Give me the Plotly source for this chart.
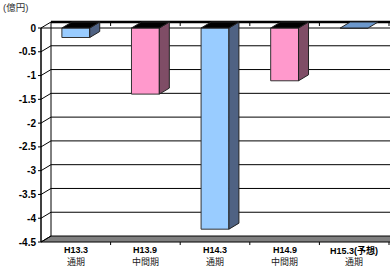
import plotly.graph_objects as go

# ---- data ----
categories = ["H13.3", "H13.9", "H14.3", "H14.9", "H15.3(予想)"]
periods = ["通期", "中間期", "通期", "中間期", "通期"]
values = [-0.20, -1.39, -4.23, -1.11, 0.0]
y_ticks = [0, -0.5, -1, -1.5, -2, -2.5, -3, -3.5, -4, -4.5]
y_tick_labels = ["0", "-0.5", "-1", "-1.5", "-2", "-2.5", "-3", "-3.5", "-4", "-4.5"]
unit_label = "(億円)"

# ---- styling / geometry ----
BLUE, BLUE_SIDE, BLUE_TOP = "#99CCFF", "#4F6283", "#6C98CC"
PINK, PINK_SIDE = "#FF99CC", "#7F4D66"
front_cols = [BLUE, PINK, BLUE, PINK, BLUE]
side_cols = [BLUE_SIDE, PINK_SIDE, BLUE_SIDE, PINK_SIDE, BLUE_SIDE]

W, H = 390, 267
L, T, B = 37, 20, 21
px_x = 69.6          # pixels per category
px_y = 47.56         # pixels per unit
x_front0 = 41        # pixel of x=-0.5
y_front0 = 28        # pixel of value 0
dx = 10 / px_x       # depth offset (data units)
dy = 6 / px_y
bw = 0.40

x_start = -0.5 - (x_front0 - L) / px_x
x_end = x_start + (W - L) / px_x
y_top = (y_front0 - T) / px_y
y_bot = -((H - B) - y_front0) / px_y

xs = list(range(len(categories)))
x0 = -0.5
xmax = x_end + 0.5
ymin = y_ticks[-1]

fig = go.Figure()

shapes = []
def line(xa, ya, xb, yb, w=1, color="black"):
    shapes.append(dict(type="line", xref="x", yref="y", x0=xa, y0=ya, x1=xb, y1=yb,
                       line=dict(color=color, width=w), layer="below"))

# floor
shapes.append(dict(type="path", xref="x", yref="y", layer="below",
                   path=f"M {x0},{ymin} L {xmax},{ymin} L {xmax},{ymin+dy} L {x0+dx},{ymin+dy} Z",
                   fillcolor="#808080", line=dict(color="black", width=1)))
# back-wall gridlines and diagonals
for t in y_ticks:
    if t not in (0, ymin):
        line(x0 + dx, t + dy, xmax, t + dy, 1)
    line(x0, t, x0 + dx, t + dy, 1)
    line(x0 - 3 / px_x, t, x0, t, 1)
# back wall left edge
line(x0 + dx, dy, x0 + dx, ymin + dy, 1)
# front axis
line(x0, 0, x0, ymin, 1.5)
# top (zero plane)
line(x0, 0, xmax, 0, 1)
line(x0 + dx, dy, xmax, dy, 2.5)
# category boundary ticks
for i in range(len(categories)):
    xb = i + 0.5
    line(xb, dy, xb, dy - 4 / px_y, 1)
    line(xb, ymin, xb, ymin - 3 / px_y, 1)

# front faces
fig.add_trace(go.Bar(x=xs, y=values, width=bw, marker=dict(color=front_cols,
                     line=dict(color="#333333", width=1)), showlegend=False, hoverinfo="skip"))

# side and top faces
for x, v, sc in zip(xs, values, side_cols):
    xl, xr = x - bw / 2, x + bw / 2
    if v < 0:
        fig.add_trace(go.Scatter(x=[xr, xr + dx, xr + dx, xr, xr], y=[0, dy, v + dy, v, 0],
                                 fill="toself", fillcolor=sc, mode="lines",
                                 line=dict(color="#222222", width=1), showlegend=False, hoverinfo="skip"))
    top_col = "black" if v < 0 else BLUE_TOP
    fig.add_trace(go.Scatter(x=[xl, xr, xr + dx, xl + dx, xl], y=[0, 0, dy, dy, 0],
                             fill="toself", fillcolor=top_col, mode="lines",
                             line=dict(color="#222222", width=1), showlegend=False, hoverinfo="skip"))

annotations = [dict(text=unit_label, xref="paper", yref="paper", x=0, y=1,
                    xanchor="left", yanchor="middle", xshift=-L + 1, yshift=T - 7,
                    showarrow=False, font=dict(size=9.5, color="#333333",
                                               family="Liberation Sans, Noto Sans CJK JP"))]
plot_bottom_px = H - B
for x, c, p in zip(xs, categories, periods):
    annotations.append(dict(text=c, xref="x", yref="paper", x=x, y=0, xanchor="center",
                            yanchor="middle", yshift=plot_bottom_px - 250, showarrow=False,
                            font=dict(size=9, weight="bold", color="black",
                                      family="Liberation Sans, Arial, Noto Sans CJK JP")))
    annotations.append(dict(text=p, xref="x", yref="paper", x=x, y=0, xanchor="center",
                            yanchor="middle", yshift=plot_bottom_px - 261, showarrow=False,
                            font=dict(size=9, color="#222222", family="Noto Sans CJK JP")))

fig.update_layout(
    width=W, height=H,
    margin=dict(l=L, r=0, t=T, b=B, pad=0),
    paper_bgcolor="white", plot_bgcolor="white",
    shapes=shapes,
    annotations=annotations,
    font=dict(family="Liberation Sans, Arial, Noto Sans CJK JP", color="black"),
    xaxis=dict(range=[x_start, x_end], showticklabels=False, ticks="",
               showgrid=False, zeroline=False, showline=False),
    yaxis=dict(range=[y_bot, y_top], tickvals=y_ticks, ticktext=y_tick_labels, ticks="",
               showgrid=False, zeroline=False, showline=False,
               tickfont=dict(size=10, weight="bold")),
)

fig.write_html("out.html", config={"displayModeBar": False},
               post_script="document.body.style.margin='0';document.body.style.padding='0';")
